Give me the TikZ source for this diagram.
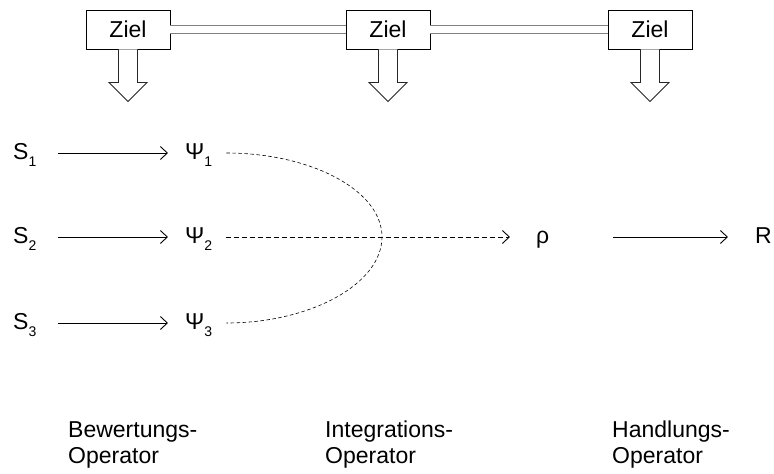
\documentclass[tikz,border=0pt]{standalone}
\usepackage{fontspec}
\setmainfont{Liberation Sans}
\usetikzlibrary{arrows.meta}
\newcommand{\lowsub}[1]{\raisebox{-7pt}{\fontsize{14}{14}\selectfont #1}}

\begin{document}
\begin{tikzpicture}[x=1pt,y=-1pt,
  every node/.style={inner sep=0pt,font=\fontsize{23}{26}\selectfont},
  zielbox/.style={draw,line width=0.9pt,minimum width=84pt,minimum height=39pt},
  sym/.style={anchor=west,text height=19pt,text depth=7pt},
  arr/.style={line width=0.9pt,-{Straight Barb[length=7pt,width=13pt]}},
  dasharr/.style={arr,dash pattern=on 5pt off 3pt},
  hollow/.style={draw=black!85,fill=white,line width=0.9pt},
  ridge/.style={draw=gray,line width=1.4pt,double=white,double distance=6.6pt}]
\useasboundingbox (0,0) rectangle (774,474);
\node[zielbox] (z1) at (128,29.5) {Ziel};
\node[zielbox] (z2) at (388,29.5) {Ziel};
\node[zielbox] (z3) at (650,29.5) {Ziel};
\draw[ridge] (z1.east) -- (z2.west);
\draw[ridge] (z2.east) -- (z3.west);
\foreach \b in {z1,z2,z3}
  \filldraw[hollow] (\b.south) ++(-9.5,0) -- ++(0,33) -- ++(-9.5,0) -- ++(19,19) -- ++(19,-19) -- ++(-9.5,0) -- ++(0,-33);

\node[sym] (s1) at (13,153) {S\lowsub{1}};
\node[sym] (s2) at (13,237) {S\lowsub{2}};
\node[sym] (s3) at (13,323) {S\lowsub{3}};
\node[sym] (psi1) at (185,153) {Ψ\lowsub{1}};
\node[sym] (psi2) at (185,237) {Ψ\lowsub{2}};
\node[sym] (psi3) at (185,323) {Ψ\lowsub{3}};
\node[sym] (rho) at (536,237) {ρ};
\node[sym] (r) at (755,237) {R};
\foreach \i in {1,2,3}
  \draw[arr,shorten <=21pt,shorten >=17pt] (s\i) -- (psi\i);

\coordinate (c1) at ([xshift=14pt]psi1.east);
\coordinate (c3) at ([xshift=14pt]psi3.east);
\coordinate (apex) at (382,237);
\draw[line width=0.6pt,dash pattern=on 3.5pt off 2.5pt] (c1) .. controls +(84,0) and +(0,-47) .. (apex) .. controls +(0,47) and +(84,0) .. (c3);
\draw[dasharr,shorten <=14pt,shorten >=26pt] (psi2) -- (rho);
\draw[arr,shorten <=64pt,shorten >=27pt] (rho) -- (r);

\node[anchor=north west,align=left] (op1) at (68,421) {Bewertungs-\\Operator};
\node[anchor=north west,align=left] (op2) at (325,421) {Integrations-\\Operator};
\node[anchor=north west,align=left] (op3) at (612,421) {Handlungs-\\Operator};
\end{tikzpicture}
\end{document}
